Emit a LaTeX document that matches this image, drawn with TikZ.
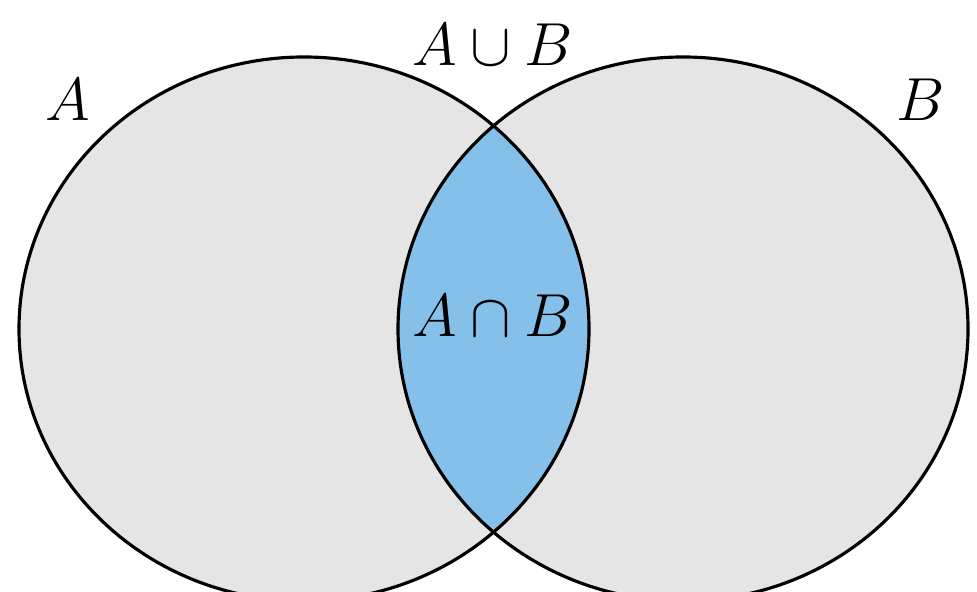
\documentclass[tikz,border=0pt]{standalone}
\usepackage{amsmath}
\usepackage{amssymb}
\usetikzlibrary{calc}
\definecolor{setgray}{RGB}{229,229,229}
\definecolor{capblue}{RGB}{133,192,234}

\begin{document}
\begin{tikzpicture}[x=0.01cm,y=0.01cm,inner sep=0pt]
\def\rx{285}
\def\ry{272}
\useasboundingbox (0,0) rectangle (977,591);
\clip (0,0) rectangle (977,591);
\coordinate (ca) at (304,262);
\coordinate (cb) at (683,262);
\fill[setgray] (ca) ellipse [x radius=\rx, y radius=\ry];
\fill[setgray] (cb) ellipse [x radius=\rx, y radius=\ry];
\begin{scope}
\clip (ca) ellipse [x radius=\rx, y radius=\ry];
\fill[capblue] (cb) ellipse [x radius=\rx, y radius=\ry];
\end{scope}
\draw[line width=0.9pt] (ca) ellipse [x radius=\rx, y radius=\ry];
\draw[line width=0.9pt] (cb) ellipse [x radius=\rx, y radius=\ry];
\node (la) at (68,491) {\LARGE $A$};
\node (lb) at (921,491) {\LARGE $B$};
\node (lcup) at (493,546) {\LARGE $A\cup B$};
\node (lcap) at (493,275) {\LARGE $A\cap B$};
\end{tikzpicture}
\end{document}
